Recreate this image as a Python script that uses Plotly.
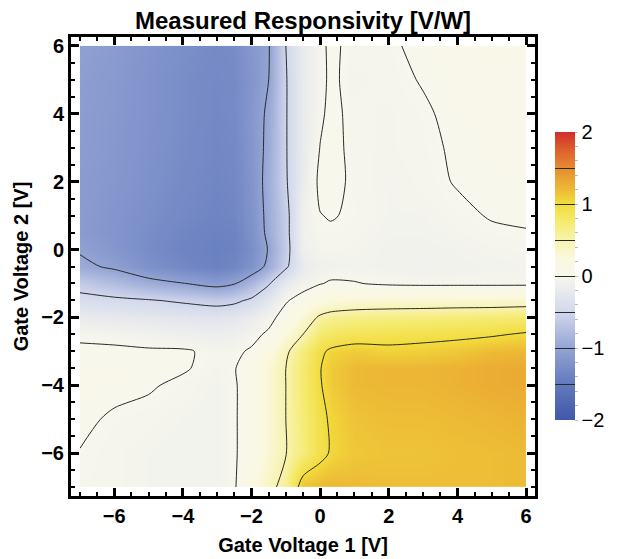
import plotly.graph_objects as go

# Gate voltage grid (V)
gate_v1 = [-7, -6, -5, -4, -3, -2.5, -2, -1.5, -1, -0.5, 0, 0.3, 1, 2, 3, 4, 5, 6]
gate_v2 = [-7, -6, -5, -4, -3.5, -3, -2.5, -2, -1.5, -1, -0.5, 0, 0.5, 1, 2, 3, 4, 5, 6]

# Measured responsivity [V/W], one row per gate_v2 value (bottom to top)
resp_vm7  = [-0.02, -0.04, -0.06, -0.07, -0.07, -0.02, 0.2, 0.4, 0.62, 1.15, 1.2, 1.22, 1.2, 1.18, 1.18, 1.18, 1.18, 1.2]
resp_vm6  = [-0.005, -0.04, -0.06, -0.07, -0.07, -0.02, 0.1, 0.3, 0.49, 0.7, 0.92, 1.02, 1.12, 1.15, 1.15, 1.17, 1.18, 1.2]
resp_vm5  = [0.03, -0.02, -0.04, -0.06, -0.07, -0.02, 0.1, 0.3, 0.5, 0.72, 0.93, 1.03, 1.15, 1.18, 1.18, 1.2, 1.22, 1.25]
resp_vm4  = [0.05, 0.04, 0.015, -0.03, -0.07, -0.02, 0.1, 0.3, 0.5, 0.75, 0.98, 1.1, 1.2, 1.22, 1.22, 1.25, 1.28, 1.3]
resp_vm35 = [0.05, 0.05, 0.04, 0.015, -0.05, -0.01, 0.1, 0.3, 0.5, 0.75, 0.99, 1.1, 1.2, 1.22, 1.22, 1.25, 1.28, 1.3]
resp_vm3  = [0.03, 0.03, 0.02, 0.02, -0.04, -0.03, 0.02, 0.2, 0.45, 0.7, 0.95, 1.04, 1.1, 1.06, 1.08, 1.12, 1.2, 1.22]
resp_vm25 = [-0.03, -0.05, -0.08, -0.12, -0.15, -0.12, -0.05, 0.03, 0.25, 0.5, 0.75, 0.82, 0.87, 0.9, 0.92, 0.94, 0.97, 1.03]
resp_vm2  = [-0.2, -0.22, -0.25, -0.28, -0.3, -0.27, -0.18, -0.06, 0.08, 0.3, 0.55, 0.62, 0.66, 0.68, 0.7, 0.72, 0.74, 0.76]
resp_vm15 = [-0.4, -0.44, -0.48, -0.54, -0.6, -0.56, -0.45, -0.25, -0.02, 0.08, 0.2, 0.25, 0.3, 0.32, 0.32, 0.33, 0.33, 0.35]
resp_vm1  = [-0.62, -0.75, -0.9, -0.99, -1.1, -1.02, -0.8, -0.53, -0.2, -0.08, -0.01, 0.02, 0.01, -0.03, -0.04, -0.04, -0.04, -0.04]
resp_vm05 = [-0.93, -1.05, -1.22, -1.33, -1.4, -1.35, -1.2, -0.92, -0.55, -0.2, -0.1, -0.08, -0.07, -0.08, -0.09, -0.08, -0.07, -0.06]
resp_v0   = [-1.03, -1.15, -1.28, -1.37, -1.42, -1.4, -1.25, -0.98, -0.62, -0.12, -0.05, -0.04, -0.05, -0.08, -0.08, -0.07, -0.05, -0.04]
resp_v05  = [-1.1, -1.18, -1.27, -1.35, -1.4, -1.38, -1.22, -0.93, -0.6, -0.1, -0.03, -0.02, -0.04, -0.07, -0.07, -0.05, -0.02, -0.01]
resp_v1   = [-1.1, -1.17, -1.25, -1.32, -1.37, -1.35, -1.2, -0.92, -0.6, -0.1, -0.005, 0.01, -0.02, -0.06, -0.06, -0.03, 0.01, 0.03]
resp_v2   = [-1.1, -1.15, -1.22, -1.3, -1.35, -1.33, -1.18, -0.9, -0.53, -0.18, 0.04, 0.05, -0.03, -0.06, -0.04, 0.01, 0.04, 0.04]
resp_v3   = [-1.08, -1.14, -1.21, -1.28, -1.34, -1.32, -1.16, -0.93, -0.52, -0.2, 0.005, 0.05, -0.04, -0.05, -0.03, 0.02, 0.05, 0.05]
resp_v4   = [-1.08, -1.13, -1.2, -1.27, -1.33, -1.3, -1.15, -0.95, -0.52, -0.2, -0.03, 0.04, -0.04, -0.05, -0.02, 0.04, 0.06, 0.06]
resp_v5   = [-1.07, -1.12, -1.2, -1.27, -1.32, -1.3, -1.17, -1.0, -0.52, -0.2, -0.05, 0.03, -0.05, -0.04, 0.01, 0.06, 0.07, 0.07]
resp_v6   = [-1.05, -1.1, -1.18, -1.25, -1.3, -1.28, -1.15, -1.02, -0.5, -0.2, -0.04, 0.03, -0.04, -0.03, 0.05, 0.07, 0.08, 0.08]

responsivity = [resp_vm7, resp_vm6, resp_vm5, resp_vm4, resp_vm35, resp_vm3, resp_vm25,
                resp_vm2, resp_vm15, resp_vm1, resp_vm05, resp_v0, resp_v05, resp_v1,
                resp_v2, resp_v3, resp_v4, resp_v5, resp_v6]

axis_ticks = [-6, -4, -2, 0, 2, 4, 6]
cbar_ticks = [-2, -1, 0, 1, 2]

zmin, zmax = -2, 2
stops = [
    (-2.0, (64, 88, 168)),
    (-1.5, (98, 122, 189)),
    (-1.0, (148, 164, 212)),
    (-0.5, (210, 216, 237)),
    (0.0, (248, 247, 237)),
    (0.25, (250, 248, 222)),
    (0.5, (248, 243, 175)),
    (0.75, (245, 235, 112)),
    (1.0, (242, 220, 60)),
    (1.25, (236, 178, 52)),
    (1.5, (229, 140, 48)),
    (1.75, (221, 96, 45)),
    (2.0, (210, 45, 45)),
]
colorscale = [[(v - zmin) / (zmax - zmin), "rgb(%d,%d,%d)" % c] for v, c in stops]

cb_vals = [round(-2 + 0.2 * i, 2) for i in range(21)]
cb_text = [("\u2212%d" % abs(v) if v < 0 else "%d" % v) if abs(v - round(v)) < 1e-9 else "" for v in cb_vals]

W, H = 617, 559
ml, mr, mt, mb = 71, 82, 37, 63
pw, ph = W - ml - mr, H - mt - mb

fig = go.Figure()
fig.add_trace(go.Contour(
    x=gate_v1, y=gate_v2, z=responsivity,
    zmin=zmin, zmax=zmax, zauto=False,
    colorscale=colorscale,
    autocontour=False,
    contours=dict(start=-1.5, end=1.5, size=0.5, coloring="heatmap", showlines=True),
    line=dict(color="#2a2a2a", width=1, smoothing=0.8),
    colorbar=dict(
        thickness=20, thicknessmode="pixels",
        len=288, lenmode="pixels",
        x=(555 - ml) / pw, xanchor="left", xpad=0, ypad=0,
        y=(mt + ph - 276) / ph, yanchor="middle",
        outlinewidth=0,
        tickmode="array", tickvals=cb_vals, ticktext=cb_text,
        ticks="outside", ticklen=3, tickwidth=1, tickcolor="#bbbbbb",
        tickfont=dict(family="Liberation Sans", size=20, color="black"),
    ),
    hoverinfo="skip",
))

axis_common = dict(
    range=[-7.26, 6.26],
    automargin=False,
    tickmode="array", tickvals=axis_ticks,
    ticks="inside", ticklen=8, tickwidth=2.5, tickcolor="black",
    minor=dict(dtick=0.5, tick0=0, ticks="inside", ticklen=4, tickwidth=1.5, tickcolor="black", showgrid=False),
    showline=True, linewidth=3, linecolor="black", mirror="allticks",
    showgrid=False, zeroline=False,
    tickfont=dict(family="Liberation Sans", size=20, color="black", weight="bold"),
)

fig.update_layout(
    width=W, height=H,
    margin=dict(l=ml, r=mr, t=mt, b=mb, autoexpand=False),
    paper_bgcolor="white", plot_bgcolor="white",
    title=dict(text="Measured Responsivity [V/W]", x=(ml + pw / 2) / W, xanchor="center",
               y=1 - 21 / H, yanchor="middle", yref="container",
               font=dict(family="Liberation Sans", size=24, color="black", weight="bold")),
    xaxis=dict(axis_common, ticklabelstandoff=0,
               title=dict(text="Gate Voltage 1 [V]", standoff=12,
                          font=dict(family="Liberation Sans", size=20, color="black", weight="bold"))),
    yaxis=dict(axis_common, title=dict(text="Gate Voltage 2 [V]", standoff=8,
               font=dict(family="Liberation Sans", size=20, color="black", weight="bold"))),
)

fig.write_html("out.html")
